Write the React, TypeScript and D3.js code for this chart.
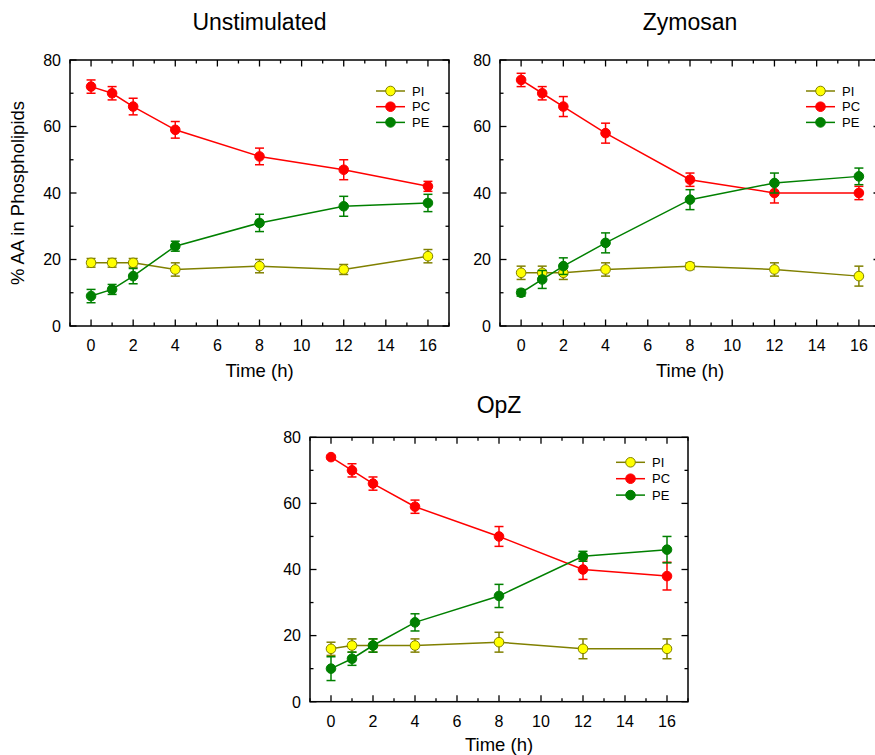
import React from "react";
import * as d3 from "d3";

const times = [0, 1, 2, 4, 8, 12, 16];
const seriesNames = ["PI", "PC", "PE"];
const seriesFill = ["#ffff00", "#ff0000", "#008000"];
const seriesStroke = ["#808000", "#ff0000", "#008000"];

const panelTitles = ["Unstimulated", "Zymosan", "OpZ"];

// Unstimulated
const unstimPI = [19, 19, 19, 17, 18, 17, 21];
const unstimPIErr = [1.3, 1.3, 1.3, 2, 2, 1.5, 2];
const unstimPC = [72, 70, 66, 59, 51, 47, 42];
const unstimPCErr = [2, 2, 2.5, 2.5, 2.5, 3, 1.5];
const unstimPE = [9, 11, 15, 24, 31, 36, 37];
const unstimPEErr = [2, 1.5, 2.3, 1.5, 2.6, 3, 2.6];

// Zymosan
const zymPI = [16, 16, 16, 17, 18, 17, 15];
const zymPIErr = [2, 2, 2, 2, 1, 2, 3];
const zymPC = [74, 70, 66, 58, 44, 40, 40];
const zymPCErr = [2, 2, 3, 3, 2, 3, 2];
const zymPE = [10, 14, 18, 25, 38, 43, 45];
const zymPEErr = [1, 2.7, 2.5, 3, 3, 3, 2.5];

// OpZ
const opzPI = [16, 17, 17, 17, 18, 16, 16];
const opzPIErr = [2, 2, 2, 2, 3, 3, 3];
const opzPC = [74, 70, 66, 59, 50, 40, 38];
const opzPCErr = [0.5, 2, 2, 2, 3, 3, 4.2];
const opzPE = [10, 13, 17, 24, 32, 44, 46];
const opzPEErr = [3.6, 2, 2, 2.6, 3.5, 1.5, 4];

const xTicksMajor = [0, 2, 4, 6, 8, 10, 12, 14, 16];
const xTicksMinor = [-1, 1, 3, 5, 7, 9, 11, 13, 15, 17];
const yTicksMajor = [0, 20, 40, 60, 80];
const yTicksMinor = [10, 30, 50, 70];

const panelData = [
  [
    [unstimPI, unstimPIErr],
    [unstimPC, unstimPCErr],
    [unstimPE, unstimPEErr],
  ],
  [
    [zymPI, zymPIErr],
    [zymPC, zymPCErr],
    [zymPE, zymPEErr],
  ],
  [
    [opzPI, opzPIErr],
    [opzPC, opzPCErr],
    [opzPE, opzPEErr],
  ],
];

const layouts = [
  { left: 70, right: 449, top: 60, bottom: 326, titleY: 30, legTop: 31, legStep: 15.7, yLabel: true, timeOff: 51 },
  { left: 500, right: 880, top: 60, bottom: 326, titleY: 30, legTop: 31, legStep: 15.7, yLabel: false, timeOff: 51 },
  { left: 310, right: 688, top: 437.3, bottom: 701.7, titleY: 413, legTop: 25, legStep: 16.4, yLabel: false, timeOff: 49.5 },
];

const FONT = "'Liberation Sans', Arial, sans-serif";

function Panel({ idx }: { idx: number }) {
  const L = layouts[idx];
  const x = d3.scaleLinear().domain([-1, 17]).range([L.left, L.right]);
  const y = d3.scaleLinear().domain([0, 80]).range([L.bottom, L.top]);
  const line = d3
    .line<number>()
    .x((_, i) => x(times[i]))
    .y((v) => y(v));
  const data = panelData[idx];
  const cx = (L.left + L.right) / 2;
  const majLen = 6.5;
  const minLen = 3.5;
  return (
    <g>
      <text x={cx} y={L.titleY} textAnchor="middle" fontSize={23} fontFamily={FONT} fill="#000">
        {panelTitles[idx]}
      </text>
      {data.map(([vals, errs], s) => (
        <g key={s}>
          <path d={line(vals) || ""} fill="none" stroke={seriesStroke[s]} strokeWidth={1.5} />
          {vals.map((v, i) => {
            const px = x(times[i]);
            const y1 = y(v + errs[i]);
            const y0 = y(v - errs[i]);
            return (
              <g key={i} stroke={seriesStroke[s]} strokeWidth={1.5}>
                <line x1={px} x2={px} y1={y0} y2={y1} />
                <line x1={px - 4.5} x2={px + 4.5} y1={y1} y2={y1} />
                <line x1={px - 4.5} x2={px + 4.5} y1={y0} y2={y0} />
              </g>
            );
          })}
          {vals.map((v, i) => (
            <circle
              key={"c" + i}
              cx={x(times[i])}
              cy={y(v)}
              r={4.8}
              fill={seriesFill[s]}
              stroke={seriesStroke[s]}
              strokeWidth={1}
            />
          ))}
        </g>
      ))}
      <rect
        x={L.left}
        y={L.top}
        width={L.right - L.left}
        height={L.bottom - L.top}
        fill="none"
        stroke="#000"
        strokeWidth={1.5}
      />
      {xTicksMajor.map((t) => (
        <g key={"xm" + t} stroke="#000" strokeWidth={1.3}>
          <line x1={x(t)} x2={x(t)} y1={L.bottom} y2={L.bottom - majLen} />
          <line x1={x(t)} x2={x(t)} y1={L.top} y2={L.top + majLen} />
        </g>
      ))}
      {xTicksMinor.map((t) => (
        <g key={"xn" + t} stroke="#000" strokeWidth={1.3}>
          <line x1={x(t)} x2={x(t)} y1={L.bottom} y2={L.bottom - minLen} />
          <line x1={x(t)} x2={x(t)} y1={L.top} y2={L.top + minLen} />
        </g>
      ))}
      {xTicksMajor.map((t) => (
        <text key={"xl" + t} x={x(t)} y={L.bottom + 25} textAnchor="middle" fontSize={16} fontFamily={FONT}>
          {t}
        </text>
      ))}
      <text x={cx} y={L.bottom + L.timeOff} textAnchor="middle" fontSize={18.5} fontFamily={FONT}>
        Time (h)
      </text>
      {yTicksMajor.map((t) => (
        <g key={"ym" + t} stroke="#000" strokeWidth={1.3}>
          <line x1={L.left} x2={L.left + majLen} y1={y(t)} y2={y(t)} />
          <line x1={L.right} x2={L.right - majLen} y1={y(t)} y2={y(t)} />
        </g>
      ))}
      {yTicksMinor.map((t) => (
        <g key={"yn" + t} stroke="#000" strokeWidth={1.3}>
          <line x1={L.left} x2={L.left + minLen} y1={y(t)} y2={y(t)} />
          <line x1={L.right} x2={L.right - minLen} y1={y(t)} y2={y(t)} />
        </g>
      ))}
      {yTicksMajor.map((t) => (
        <text key={"yl" + t} x={L.left - 9} y={y(t) + 5.8} textAnchor="end" fontSize={16} fontFamily={FONT}>
          {t}
        </text>
      ))}
      {L.yLabel && (
        <text
          transform={`translate(24, ${(L.top + L.bottom) / 2}) rotate(-90)`}
          textAnchor="middle"
          fontSize={18.5}
          fontFamily={FONT}
        >
          % AA in Phospholipids
        </text>
      )}
      {seriesNames.map((name, s) => {
        const ly = L.top + L.legTop + s * L.legStep;
        const lx = L.left + 306;
        return (
          <g key={"leg" + s}>
            <line x1={lx} x2={lx + 29} y1={ly} y2={ly} stroke={seriesStroke[s]} strokeWidth={1.5} />
            <circle cx={lx + 14.5} cy={ly} r={4.8} fill={seriesFill[s]} stroke={seriesStroke[s]} strokeWidth={1} />
            <text x={lx + 36} y={ly + 4.6} fontSize={13} fontFamily={FONT}>
              {name}
            </text>
          </g>
        );
      })}
    </g>
  );
}

export default function App() {
  return (
    <svg
      width={875}
      height={755}
      style={{ position: "absolute", left: 0, top: 0, background: "#fff" }}
    >
      <rect x={0} y={0} width={875} height={755} fill="#fff" />
      {[0, 1, 2].map((i) => (
        <Panel key={i} idx={i} />
      ))}
    </svg>
  );
}
